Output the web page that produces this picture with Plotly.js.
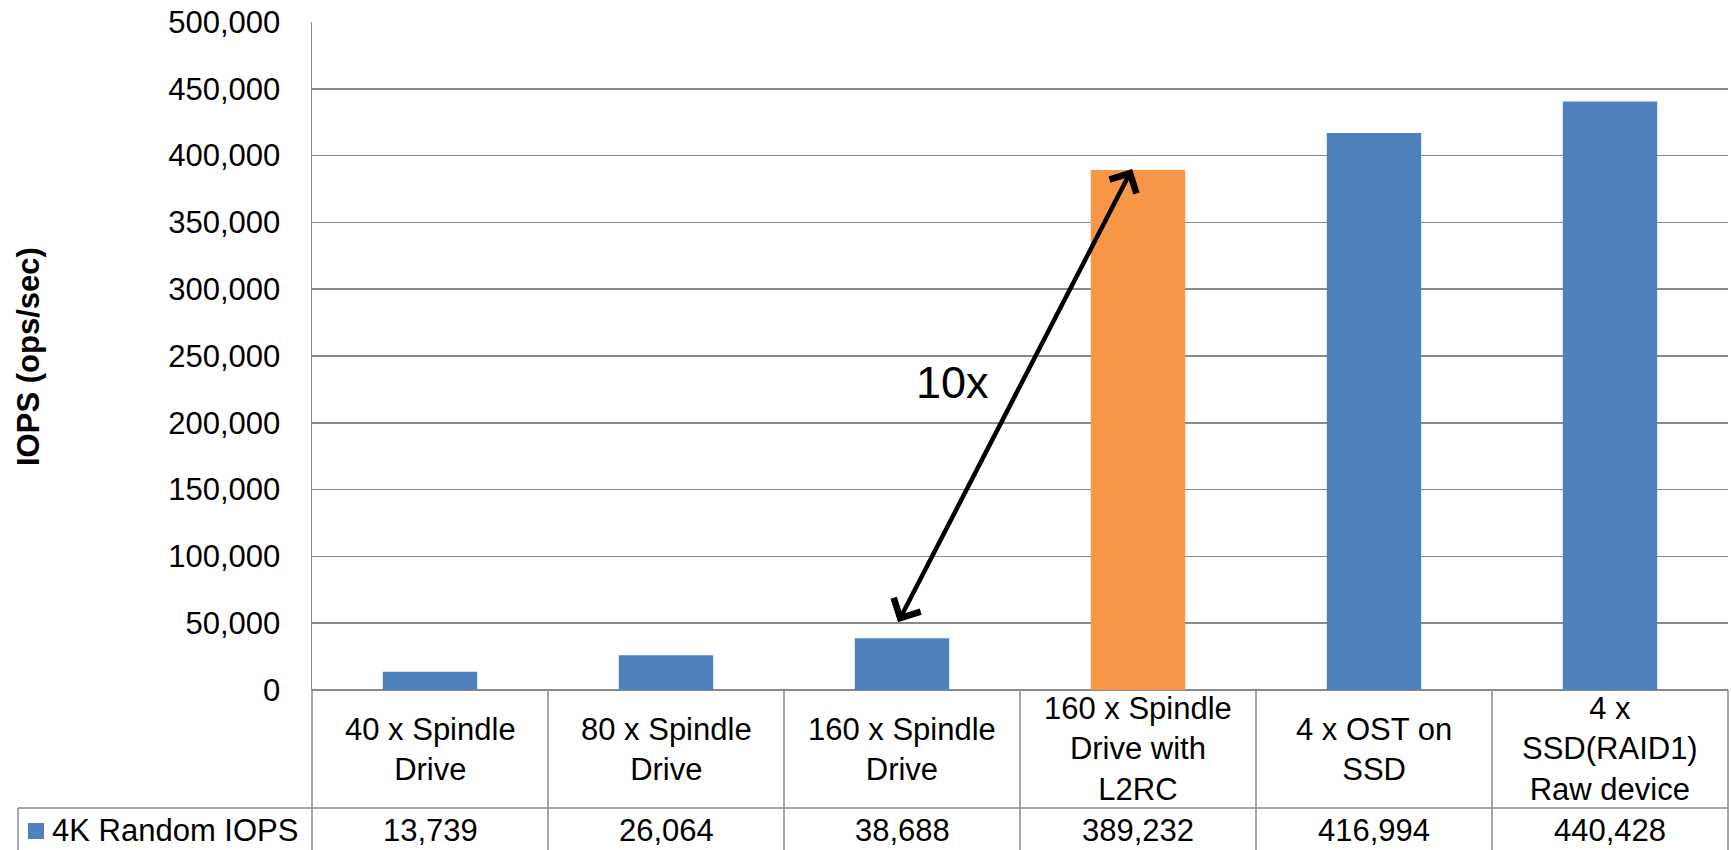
<!DOCTYPE html>
<html>
<head>
<meta charset="utf-8">
<script src="https://cdn.plot.ly/plotly-3.0.1.min.js"></script>
<style>
html, body { margin: 0; padding: 0; background: #fff; }
#chart { width: 1731px; height: 850px; }
</style>
</head>
<body>
<div id="chart"></div>
<script>
// ---- data ----
const categories = [
  "40 x Spindle<br>Drive",
  "80 x Spindle<br>Drive",
  "160 x Spindle<br>Drive",
  "160 x Spindle<br>Drive with<br>L2RC",
  "4 x OST on<br>SSD",
  "4 x<br>SSD(RAID1)<br>Raw device"
];
const seriesName = "4K Random IOPS";
const iops = [13739, 26064, 38688, 389232, 416994, 440428];
const highlightIndex = 3;
const yTicks = [0, 50000, 100000, 150000, 200000, 250000, 300000, 350000, 400000, 450000, 500000];
const yTitle = "IOPS (ops/sec)";
const arrowLabel = "10x";
const arrowFrom = {cat: 1.98, value: 49500};
const arrowTo = {cat: 2.975, value: 390000};
const labelAt = {cat: 2.216, value: 229800};

// ---- layout helpers (pixel geometry) ----
const W = 1731, H = 850;
const L = 312, R = 1728, T = 22, B = 690;
const PW = R - L, PH = B - T;
const px = v => (v - L) / PW;   // pixel x -> paper x
const py = v => (B - v) / PH;   // pixel y -> paper y

const BLUE = "#4F81BD", ORANGE = "#F79646", GRID = "#8a8a8a";
const FONT = "Liberation Sans, Arial, sans-serif";
const colors = iops.map((v, i) => i === highlightIndex ? ORANGE : BLUE);
const idx = categories.map((c, i) => i);

const trace = {
  type: "bar",
  x: idx,
  y: iops,
  name: seriesName,
  marker: {color: colors, line: {width: 0}},
  hoverinfo: "none",
  showlegend: false
};

const shapes = [];
const lineStyle = {color: GRID, width: 1.5};
// table horizontal line between category row and value row
shapes.push({type: "line", xref: "paper", yref: "paper", x0: px(18), x1: 1, y0: py(808), y1: py(808), line: lineStyle});
// column borders
for (let i = 0; i <= categories.length; i++) {
  shapes.push({type: "line", xref: "paper", yref: "paper", x0: i / categories.length, x1: i / categories.length, y0: 0, y1: py(H + 5), line: lineStyle});
}
// left border of legend cell
shapes.push({type: "line", xref: "paper", yref: "paper", x0: px(18), x1: px(18), y0: py(808), y1: py(H + 5), line: lineStyle});
// legend key square
shapes.push({type: "rect", xref: "paper", yref: "paper", x0: px(28), x1: px(44), y0: py(823), y1: py(839), fillcolor: BLUE, line: {width: 0}});

const annotations = [];
// category labels and values
categories.forEach((c, i) => {
  annotations.push({xref: "paper", yref: "paper", x: (i + 0.5) / categories.length, y: py(749),
    xanchor: "center", yanchor: "middle", text: c, showarrow: false, align: "center",
    font: {family: FONT, size: 31, color: "#000"}});
  annotations.push({xref: "paper", yref: "paper", x: (i + 0.5) / categories.length, y: py(830),
    xanchor: "center", yanchor: "middle", text: iops[i].toLocaleString("en-US"), showarrow: false,
    font: {family: FONT, size: 31, color: "#000"}});
});
// legend text
annotations.push({xref: "paper", yref: "paper", x: px(50), y: py(830), xanchor: "left", yanchor: "middle",
  text: seriesName, showarrow: false, font: {family: FONT, size: 31, color: "#000"}});
// y title
annotations.push({xref: "paper", yref: "paper", x: px(28), y: py(357), xanchor: "center", yanchor: "middle",
  text: "<b>" + yTitle + "</b>", textangle: -90, showarrow: false, font: {family: FONT, size: 31, color: "#000"}});
// double arrow
annotations.push({xref: "x", yref: "y", axref: "x", ayref: "y",
  x: arrowTo.cat, y: arrowTo.value, ax: arrowFrom.cat, ay: arrowFrom.value,
  text: "", showarrow: true, arrowside: "end+start", arrowhead: 4, startarrowhead: 4,
  arrowsize: 1.3, startarrowsize: 1.3, arrowwidth: 4.5, arrowcolor: "#000", standoff: 0, startstandoff: 0});
annotations.push({xref: "x", yref: "y", x: labelAt.cat, y: labelAt.value, xanchor: "center", yanchor: "middle",
  text: arrowLabel, showarrow: false, font: {family: FONT, size: 45, color: "#000"}});

const layout = {
  width: W, height: H,
  margin: {l: L, r: W - R, t: T, b: H - B, pad: 0},
  paper_bgcolor: "#fff", plot_bgcolor: "#fff",
  bargap: 0.6,
  font: {family: FONT, size: 31, color: "#000"},
  xaxis: {range: [-0.5, categories.length - 0.5], showgrid: false, showticklabels: false, ticks: "",
    zeroline: false, showline: false, fixedrange: true},
  yaxis: {range: [0, 500000], tickvals: yTicks, tickformat: ",", showgrid: true, gridcolor: GRID, gridwidth: 1.5,
    zeroline: true, zerolinecolor: GRID, zerolinewidth: 1.5,
    showline: true, linecolor: GRID, linewidth: 1.5, ticks: "", ticklabelstandoff: 24,
    tickfont: {family: FONT, size: 31, color: "#000"}, fixedrange: true},
  shapes: shapes,
  annotations: annotations,
  showlegend: false
};

Plotly.newPlot("chart", [trace], layout, {displayModeBar: false, staticPlot: true});
</script>
</body>
</html>
